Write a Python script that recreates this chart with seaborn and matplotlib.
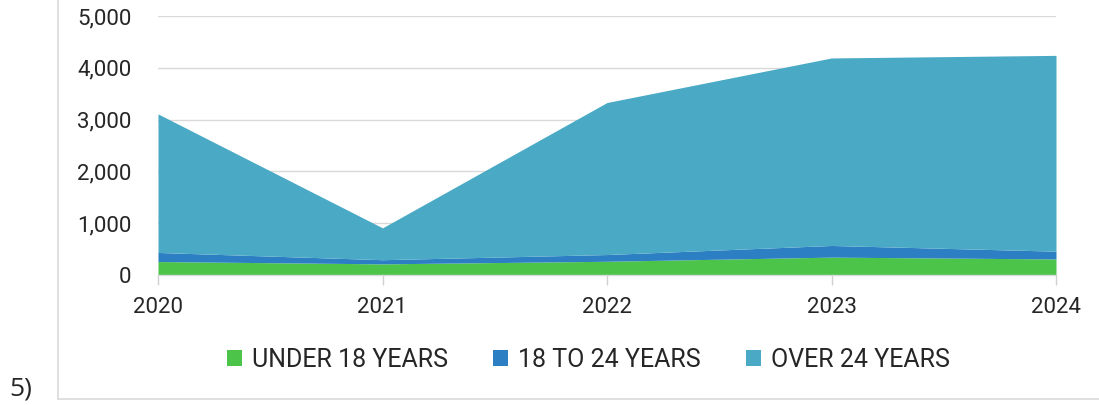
import matplotlib
matplotlib.use("Agg")
import matplotlib.pyplot as plt
from matplotlib.patches import Patch
from matplotlib.ticker import FuncFormatter
import seaborn as sns
import numpy as np

# Yearly counts by age group
years = [2020, 2021, 2022, 2023, 2024]
under_18 = [260, 215, 265, 345, 310]
age_18_24 = [175, 80, 130, 225, 150]
totals = [3110, 910, 3330, 4190, 4240]
over_24 = [t - a - b for t, a, b in zip(totals, under_18, age_18_24)]

series_labels = ["UNDER 18 YEARS", "18 TO 24 YEARS", "OVER 24 YEARS"]
series_colors = ["#4cc44a", "#2b7fc2", "#4aaac5"]
y_ticks = [0, 1000, 2000, 3000, 4000, 5000]

sns.set_theme(style="white")
plt.rcParams["font.family"] = ["Roboto", "DejaVu Sans"]

fig = plt.figure(figsize=(10.99, 4.05), dpi=100)
ax = fig.add_axes([158 / 1099, 130 / 405, 898 / 1099, 259 / 405])

ax.stackplot(years, under_18, age_18_24, over_24,
             colors=series_colors, linewidth=0, zorder=2)

ax.set_xlim(years[0], years[-1])
ax.set_ylim(0, 5000)
ax.set_xticks(years)
ax.set_yticks(y_ticks)
ax.yaxis.set_major_formatter(FuncFormatter(lambda v, _: f"{int(v):,}"))
ax.grid(axis="y", color="#d9d9d9", linewidth=1, zorder=0)
ax.grid(axis="x", visible=False)

for side in ["left", "right", "top"]:
    ax.spines[side].set_visible(False)
ax.spines["bottom"].set_color("#d9d9d9")
ax.spines["bottom"].set_linewidth(1)

ax.tick_params(axis="x", bottom=True, length=7, width=1, color="#d0d0d0",
               pad=9, labelsize=16, labelcolor="#262626")
ax.tick_params(axis="y", left=False, pad=13, labelsize=16, labelcolor="#262626")

handles = [Patch(facecolor=c, edgecolor="none", label=l)
           for c, l in zip(series_colors, series_labels)]
fig.legend(handles=handles, loc="center", bbox_to_anchor=(0.5355, 0.111),
           ncol=3, frameon=False, fontsize=18, labelcolor="#262626",
           handlelength=0.6, handleheight=0.6, handletextpad=0.4,
           columnspacing=1.8)

# Surrounding frame (left and bottom edges)
frame_color = "#d9d9d9"
fig.add_artist(plt.Line2D([58 / 1099, 58 / 1099], [6 / 405, 1.0],
                          transform=fig.transFigure, color=frame_color, linewidth=1.2))
fig.add_artist(plt.Line2D([58 / 1099, 1.0], [6 / 405, 6 / 405],
                          transform=fig.transFigure, color=frame_color, linewidth=1.2))

fig.text(9 / 1099, 16 / 405, "5)", fontsize=19, color="#262626",
         family=["Open Sans", "DejaVu Sans"], va="center", ha="left")

fig.savefig("out.png", dpi=100)
